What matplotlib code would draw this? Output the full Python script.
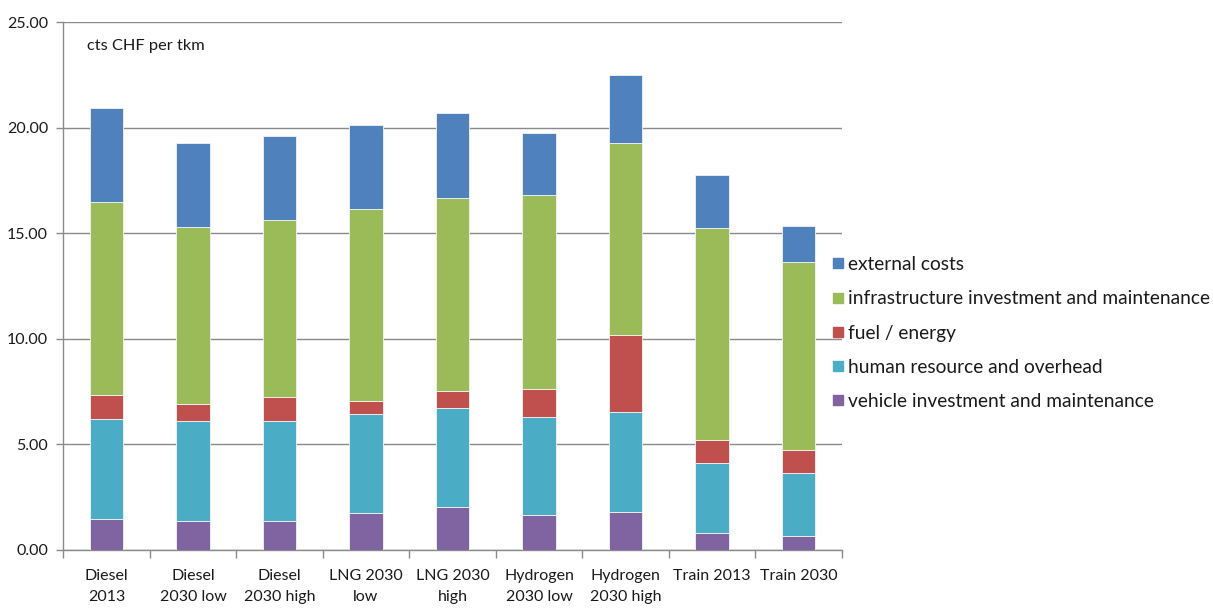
import matplotlib
matplotlib.use("Agg")
import matplotlib.pyplot as plt
from matplotlib.lines import Line2D
import numpy as np

# Cost components, cts CHF per tkm
categories = ["Diesel\n2013", "Diesel\n2030 low", "Diesel\n2030 high", "LNG 2030\nlow",
              "LNG 2030\nhigh", "Hydrogen\n2030 low", "Hydrogen\n2030 high",
              "Train 2013", "Train 2030"]
vehicle = [1.44, 1.37, 1.37, 1.73, 2.04, 1.64, 1.79, 0.78, 0.65]
human = [4.74, 4.73, 4.73, 4.72, 4.66, 4.66, 4.72, 3.33, 2.99]
fuel = [1.14, 0.81, 1.14, 0.58, 0.82, 1.33, 3.67, 1.07, 1.07]
infrastructure = [9.17, 8.38, 8.39, 9.12, 9.16, 9.19, 9.11, 10.05, 8.93]
external = [4.46, 4.00, 3.99, 3.99, 4.00, 2.94, 3.19, 2.54, 1.72]

series_names = ["vehicle investment and maintenance", "human resource and overhead",
                "fuel / energy", "infrastructure investment and maintenance", "external costs"]
series_colors = ["#8064A2", "#4BACC6", "#C0504D", "#9BBB59", "#4F81BD"]
yticks = [0, 5, 10, 15, 20, 25]

plt.rcParams["font.family"] = ["Lato", "DejaVu Sans"]

fig = plt.figure(figsize=(12.13, 6.08), dpi=100)
ax = fig.add_axes([63.3 / 1213, 1 - 549.7 / 608, (841.7 - 63.3) / 1213, (549.7 - 22.3) / 608])

x = np.arange(len(categories))
bottom = np.zeros(len(categories))
for name, vals, col in zip(series_names, [vehicle, human, fuel, infrastructure, external], series_colors):
    vals = np.array(vals)
    ax.bar(x, vals, width=0.385, bottom=bottom, color=col, edgecolor="#f4f4f4",
           linewidth=0.6, label=name, zorder=3)
    bottom += vals

grid_col = "#8a8a8a"
text_col = "#1a1a1a"
ax.set_ylim(0, 25)
ax.set_xlim(-0.5, len(categories) - 0.5)
ax.set_yticks(yticks)
ax.set_yticklabels([f"{v:.2f}" for v in yticks], fontsize=11.5, color=text_col)
ax.yaxis.grid(True, color=grid_col, linewidth=1.0, zorder=0)
ax.tick_params(axis="y", length=5, width=1, color=grid_col, pad=6)

# tick marks between categories, labels at the centres
ax.set_xticks(np.arange(-0.5, len(categories), 1.0))
ax.set_xticklabels([])
ax.tick_params(axis="x", which="major", length=6, width=1, color=grid_col)
ax.set_xticks(x, minor=True)
ax.set_xticklabels(categories, minor=True, fontsize=11.5, color=text_col, linespacing=1.6)
ax.tick_params(axis="x", which="minor", length=0, pad=14)

for side in ["top", "right"]:
    ax.spines[side].set_visible(False)
for side in ["left", "bottom"]:
    ax.spines[side].set_color(grid_col)
    ax.spines[side].set_linewidth(1.0)

ax.text(0.030, 0.955, "cts CHF per tkm", transform=ax.transAxes, fontsize=11.8,
        color=text_col, va="center", ha="left")

# legend: small squares, top entry first
legend_handles = [Line2D([], [], marker="s", linestyle="none", markersize=7.5,
                         markerfacecolor=c, markeredgecolor=c)
                  for c in series_colors[::-1]]
leg = fig.legend(legend_handles, series_names[::-1], loc="center left",
                 bbox_to_anchor=(830 / 1213, 1 - 333 / 608), frameon=False,
                 fontsize=13.8, handlelength=0.8, handletextpad=0.15,
                 labelspacing=0.9, borderpad=0, borderaxespad=0)
for t in leg.get_texts():
    t.set_color(text_col)

fig.savefig("out.png", dpi=100)
